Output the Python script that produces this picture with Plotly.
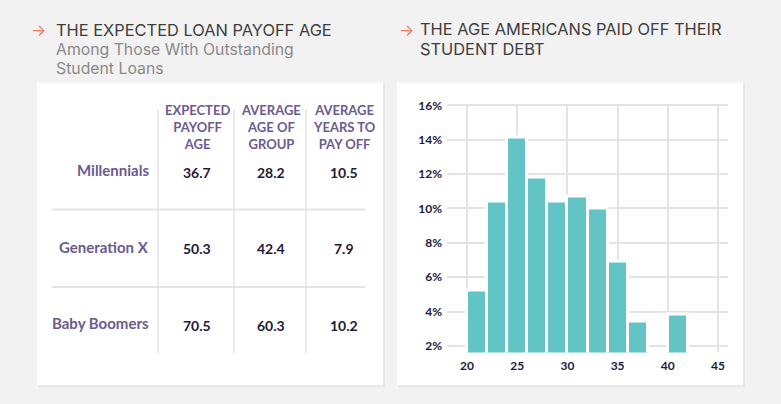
import plotly.graph_objs as go

# histogram data: age bins (2-year bins, centers) and share of borrowers (%)
ages = [21, 23, 25, 27, 29, 31, 33, 35, 37, 41]
share = [5.2, 10.4, 14.1, 11.8, 10.4, 10.7, 10.0, 6.9, 3.4, 3.8]
x_ticks = [20, 25, 30, 35, 40, 45]
y_ticks = [2, 4, 6, 8, 10, 12, 14, 16]

# table data
groups = ['Millennials', 'Generation X', 'Baby Boomers']
columns = ['EXPECTED<br>PAYOFF<br>AGE', 'AVERAGE<br>AGE OF<br>GROUP', 'AVERAGE<br>YEARS TO<br>PAY OFF']
payoff_age = ['36.7', '50.3', '70.5']
group_age = ['28.2', '42.4', '60.3']
years_left = ['10.5', '7.9', '10.2']

W, H = 781, 404
def px(x):
    return x / W
def py(y):
    return 1 - y / H

PURPLE = '#6b5b8e'
NAVY = '#1d1a3b'
TEAL = '#63c4c6'
GRID = '#e3e3e3'

trace = go.Bar(
    x=ages,
    y=share,
    width=2,
    marker=dict(color=TEAL, line=dict(color='white', width=3)),
    hoverinfo='skip',
)

shapes = []
# panel shadows + panels
for x0, x1 in [(37, 383), (397, 743)]:
    shapes.append(dict(type='rect', xref='paper', yref='paper', x0=px(x0 + 1), x1=px(x1 + 2),
                       y0=py(388), y1=py(79), fillcolor='#e6e6e6', line=dict(width=0), layer='below'))
    shapes.append(dict(type='rect', xref='paper', yref='paper', x0=px(x0), x1=px(x1),
                       y0=py(386), y1=py(78), fillcolor='white', line=dict(width=0), layer='below'))
# table lines
for x in [158, 234, 306]:
    shapes.append(dict(type='line', xref='paper', yref='paper', x0=px(x), x1=px(x),
                       y0=py(353), y1=py(105), line=dict(color=GRID, width=1.5)))
for y in [207, 286]:
    shapes.append(dict(type='line', xref='paper', yref='paper', x0=px(52), x1=px(365),
                       y0=py(y), y1=py(y), line=dict(color=GRID, width=2)))

ann = []
def text(x, y, s, size, color, anchor='left', weight='normal', family='Inter'):
    ann.append(dict(xref='paper', yref='paper', x=px(x), y=py(y), text=s, showarrow=False,
                    xanchor=anchor, yanchor='middle', align=anchor if anchor != 'center' else 'center',
                    borderpad=0,
                    font=dict(size=size, color=color, family=family, weight=weight)))

# titles
text(30, 24, '→', 16, '#ef7c5c')
text(55, 24.5, 'THE EXPECTED LOAN PAYOFF AGE', 16.4, '#3d3d3d')
text(55, 44.5, 'Among Those With Outstanding', 15.8, '#8a8a8a')
text(55, 63.5, 'Student Loans', 15.8, '#8a8a8a')
text(398, 24, '→', 16, '#ef7c5c')
text(419, 23.5, 'THE AGE AMERICANS PAID OFF THEIR', 16.4, '#3d3d3d')
text(419, 43.5, 'STUDENT DEBT', 16.4, '#3d3d3d')

# table text
col_x = [197, 271, 344]
row_y = [167, 245, 323]
for cx, c in zip(col_x, columns):
    text(cx, 123.5, c, 13, PURPLE, anchor='center', weight='bold', family='Lato')
for ry, g, a, b, c in zip(row_y, groups, payoff_age, group_age, years_left):
    text(150, ry, g, 15, PURPLE, anchor='right', weight='bold', family='Lato')
    for cx, v in zip(col_x, [a, b, c]):
        text(cx, ry + 2, v, 14, NAVY, anchor='center', weight='bold', family='Lato')

layout = go.Layout(
    width=W, height=H,
    margin=dict(l=0, r=0, t=0, b=0),
    paper_bgcolor='#f2f2f2',
    plot_bgcolor='rgba(0,0,0,0)',
    showlegend=False,
    bargap=0,
    xaxis=dict(domain=[px(447), px(728)], range=[18, 46], tickvals=x_ticks,
               showgrid=True, gridcolor=GRID, gridwidth=2, zeroline=False,
               ticks='', ticklabelstandoff=5,
               tickfont=dict(size=12, color=NAVY, family='Lato', weight='bold')),
    yaxis=dict(domain=[py(352.6), py(99.3)], range=[1.62, 16.1], tickvals=y_ticks,
               ticktext=[f'{v}%' for v in y_ticks],
               showgrid=True, gridcolor=GRID, gridwidth=2, zeroline=False,
               ticks='', ticklabelstandoff=4,
               tickfont=dict(size=12, color=NAVY, family='Lato', weight='bold')),
    shapes=shapes,
    annotations=ann,
)

fig = go.Figure(data=[trace], layout=layout)
fig.write_html('out.html', config={'displayModeBar': False},
               post_script="document.body.style.margin='0';")
